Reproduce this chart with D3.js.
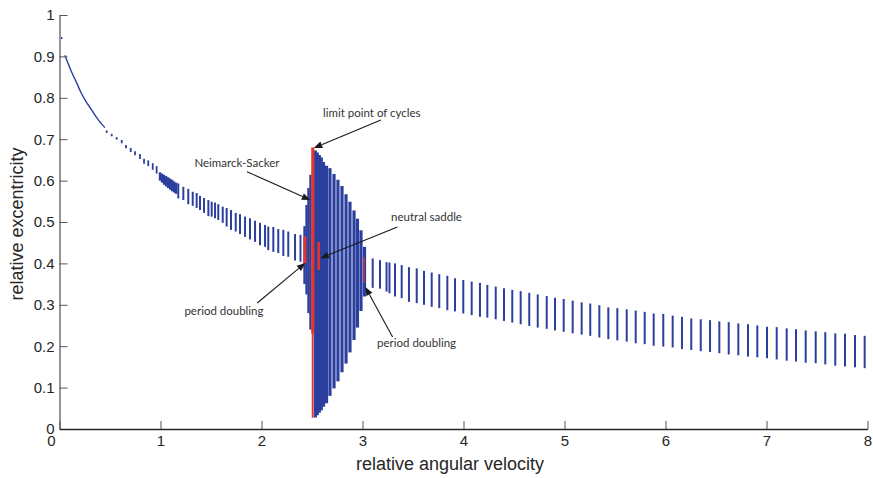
<!DOCTYPE html>
<html>
<head>
<meta charset="utf-8">
<script src="https://cdn.jsdelivr.net/npm/d3@7"></script>
<style>
  body { margin: 0; background: #fff; }
  svg text { font-family: "Liberation Sans", Arial, Helvetica, sans-serif; }
  .ann text { font-family: Lato, "Open Sans", sans-serif; }
</style>
</head>
<body>
<svg id="chart" width="873" height="478"></svg>
<script>
// ---- axis ticks ----
const xTicks = [0, 1, 2, 3, 4, 5, 6, 7, 8];
const xTickLabels = ["0", "1", "2", "3", "4", "5", "6", "7", "8"];
const yTicks = [0, 0.1, 0.2, 0.3, 0.4, 0.5, 0.6, 0.7, 0.8, 0.9, 1];
const yTickLabels = ["0", "0.1", "0.2", "0.3", "0.4", "0.5", "0.6", "0.7", "0.8", "0.9", "1"];

// ---- stationary branch (single valued) ----
const isoX = [0.022];
const isoLo = [0.942];
const isoHi = [0.947];

const curveX = [0.054, 0.075, 0.10, 0.13, 0.17, 0.21, 0.26, 0.32, 0.38, 0.45];
const curveY = [0.903, 0.889, 0.874, 0.857, 0.836, 0.814, 0.792, 0.770, 0.748, 0.728];

// ---- small oscillations (min / max of the cycle) ----
const dashX  = [0.467, 0.517, 0.566, 0.616, 0.658, 0.705, 0.748, 0.797, 0.837, 0.879, 0.923, 0.962];
const dashHi = [0.721, 0.713, 0.705, 0.698, 0.686, 0.679, 0.671, 0.664, 0.653, 0.649, 0.642, 0.635];
const dashLo = [0.715, 0.707, 0.699, 0.690, 0.678, 0.669, 0.661, 0.652, 0.641, 0.635, 0.626, 0.617];

const denseX  = [0.995, 1.015, 1.035, 1.055, 1.075, 1.095, 1.115, 1.135, 1.155];
const denseHi = [0.620, 0.617, 0.614, 0.611, 0.608, 0.605, 0.602, 0.598, 0.595];
const denseLo = [0.600, 0.595, 0.590, 0.586, 0.582, 0.578, 0.574, 0.571, 0.568];

const midX  = [1.176, 1.226, 1.275, 1.319, 1.358, 1.391, 1.431, 1.474, 1.507, 1.540,
               1.572, 1.616, 1.655, 1.698, 1.745, 1.787, 1.837, 1.886, 1.936, 1.985,
               2.035, 2.067, 2.117, 2.166, 2.216, 2.265, 2.332, 2.386];
const midHi = [0.593, 0.585, 0.580, 0.573, 0.570, 0.563, 0.558, 0.553, 0.549, 0.547,
               0.543, 0.537, 0.534, 0.529, 0.522, 0.519, 0.513, 0.509, 0.503, 0.498,
               0.493, 0.489, 0.488, 0.483, 0.481, 0.477, 0.471, 0.469];
const midLo = [0.557, 0.553, 0.543, 0.539, 0.534, 0.529, 0.522, 0.514, 0.513, 0.509,
               0.505, 0.498, 0.489, 0.481, 0.477, 0.471, 0.464, 0.458, 0.452, 0.444,
               0.440, 0.432, 0.428, 0.425, 0.418, 0.416, 0.407, 0.404];

// ---- large-amplitude lobe around the limit point ----
const lobeLX  = [2.426, 2.446, 2.465, 2.485];
const lobeLHi = [0.490, 0.541, 0.582, 0.614];
const lobeLLo = [0.350, 0.325, 0.280, 0.240];

const lobeRX  = [2.533, 2.552, 2.572, 2.592, 2.614, 2.644, 2.678, 2.718, 2.757, 2.797,
                 2.837, 2.876, 2.916, 2.950, 2.985, 3.020];
const lobeRHi = [0.673, 0.668, 0.662, 0.656, 0.645, 0.636, 0.630, 0.616, 0.602, 0.587,
                 0.567, 0.549, 0.528, 0.508, 0.480, 0.440];
const lobeRLo = [0.028, 0.033, 0.039, 0.045, 0.054, 0.062, 0.080, 0.098, 0.115, 0.137,
                 0.158, 0.185, 0.215, 0.245, 0.285, 0.320];

// ---- high-speed branch ----
const tailX  = [3.101, 3.173, 3.238, 3.267, 3.322, 3.388, 3.460, 3.537, 3.609, 3.685,
                3.760, 3.840, 3.916, 3.998, 4.081, 4.163,
                4.236, 4.319, 4.401, 4.483, 4.566, 4.651, 4.735, 4.824, 4.906, 4.992,
                5.081, 5.170, 5.255, 5.345, 5.434, 5.523, 5.616, 5.705, 5.794, 5.883,
                5.978, 6.071, 6.163, 6.255, 6.349, 6.441, 6.533, 6.626, 6.721, 6.817,
                6.909, 7.005, 7.101, 7.200, 7.292, 7.388, 7.487, 7.582, 7.681, 7.777,
                7.876, 7.972];
const tailHi = [0.412, 0.408, 0.403, 0.402, 0.400, 0.396, 0.391, 0.388, 0.382, 0.378,
                0.374, 0.370, 0.364, 0.360, 0.356, 0.353,
                0.348, 0.344, 0.340, 0.336, 0.333, 0.329, 0.325, 0.321, 0.317, 0.314,
                0.310, 0.306, 0.303, 0.299, 0.294, 0.292, 0.289, 0.286, 0.283, 0.279,
                0.278, 0.274, 0.271, 0.267, 0.265, 0.263, 0.260, 0.258, 0.255, 0.253,
                0.250, 0.247, 0.246, 0.243, 0.241, 0.238, 0.236, 0.234, 0.231, 0.230,
                0.227, 0.225];
const tailLo = [0.341, 0.339, 0.332, 0.328, 0.320, 0.316, 0.307, 0.304, 0.300, 0.295,
                0.292, 0.287, 0.284, 0.279, 0.275, 0.271,
                0.269, 0.265, 0.261, 0.257, 0.253, 0.249, 0.245, 0.242, 0.238, 0.235,
                0.231, 0.228, 0.225, 0.221, 0.217, 0.214, 0.211, 0.207, 0.205, 0.201,
                0.199, 0.197, 0.193, 0.191, 0.188, 0.186, 0.183, 0.180, 0.178, 0.175,
                0.173, 0.171, 0.168, 0.165, 0.163, 0.160, 0.159, 0.156, 0.153, 0.151,
                0.149, 0.147];

// ---- bifurcation points (red) ----
const redX  = [2.508, 2.506, 2.430, 2.566, 3.015];
const redHi = [0.680, 0.230, 0.465, 0.452, 0.415];
const redLo = [0.230, 0.027, 0.400, 0.384, 0.353];

// ---- layout ----
const svg = d3.select("#chart");
const x = d3.scaleLinear().domain([0, 8]).range([59.5, 867.5]);
const y = d3.scaleLinear().domain([0, 1]).range([429, 15]);

const BLUE = "#2b3f9e";
const RED = "#e3362b";
const TEXT = "#262626";

const zip = (xs, lo, hi) => xs.map((v, i) => ({ x: v, lo: lo[i], hi: hi[i] }));

function stripes(cls, data, color, width) {
  svg.append("g").attr("class", cls)
    .selectAll("line").data(data).join("line")
    .attr("x1", d => x(d.x)).attr("x2", d => x(d.x))
    .attr("y1", d => y(d.lo)).attr("y2", d => y(d.hi))
    .attr("stroke", color)
    .attr("stroke-width", width)
    .attr("stroke-linecap", "butt");
}

// stationary curve
svg.append("path")
  .datum(curveX.map((v, i) => [v, curveY[i]]))
  .attr("fill", "none")
  .attr("stroke", BLUE)
  .attr("stroke-width", 1.4)
  .attr("d", d3.line().x(d => x(d[0])).y(d => y(d[1])).curve(d3.curveMonotoneX));

stripes("iso", zip(isoX, isoLo, isoHi), BLUE, 1.4);
stripes("dash", zip(dashX, dashLo, dashHi), BLUE, 1.8);
stripes("dense", zip(denseX, denseLo, denseHi), BLUE, 2.4);
stripes("mid", zip(midX, midLo, midHi), BLUE, 2);
stripes("tail", zip(tailX, tailLo, tailHi), BLUE, 2);
stripes("lobeL", zip(lobeLX, lobeLLo, lobeLHi), BLUE, 2.4);
stripes("lobeR", zip(lobeRX, lobeRLo, lobeRHi), BLUE, 3.2);

const redWidths = [3.2, 1.8, 3, 2.6, 1.3];
stripes("red", zip(redX, redLo, redHi), RED, (d, i) => redWidths[i]);

// ---- axes ----
const yAxis = d3.axisLeft(y)
  .tickValues(yTicks)
  .tickFormat((d, i) => yTickLabels[i])
  .tickSize(-8).tickSizeOuter(0).tickPadding(5);
const gy = svg.append("g").attr("transform", `translate(${x(0)},0)`).call(yAxis);
gy.select(".domain").attr("stroke", "#8a8a8a").attr("stroke-width", 1.8);
gy.selectAll(".tick line").attr("stroke", "#555").attr("stroke-width", 1);
gy.selectAll(".tick text").attr("fill", TEXT).style("font-size", "15px");

const xAxis = d3.axisBottom(x)
  .tickValues(xTicks)
  .tickFormat((d, i) => xTickLabels[i])
  .tickSize(-8).tickSizeOuter(0).tickPadding(6.5);
const gx = svg.append("g").attr("transform", `translate(0,${y(0)})`).call(xAxis);
gx.select(".domain").attr("stroke", "#262626").attr("stroke-width", 1.3);
gx.selectAll(".tick line").attr("stroke", "#555").attr("stroke-width", 1);
gx.selectAll(".tick text").attr("fill", TEXT).style("font-size", "15px");
// the origin label of the x axis sits under the y-axis "0"
gx.selectAll(".tick text").filter(d => d === 0).attr("dx", -8.5);
gy.attr("font-family", null);
gx.attr("font-family", null);

// axis titles
svg.append("text")
  .attr("x", 450).attr("y", 469.5)
  .attr("text-anchor", "middle")
  .attr("fill", TEXT)
  .style("font-size", "18px")
  .text("relative angular velocity");

svg.append("text")
  .attr("transform", "translate(23,224) rotate(-90)")
  .attr("text-anchor", "middle")
  .attr("fill", TEXT)
  .style("font-size", "18px")
  .text("relative excentricity");

// ---- annotations ----
const notes = [
  { text: "limit point of cycles", tx: 2.609, ty: 0.7548, from: [3.182, 0.7464], tip: [2.518, 0.6787] },
  { text: "Neimarck-Sacker",       tx: 1.336, ty: 0.6329, from: [1.856, 0.6215], tip: [2.483, 0.5531] },
  { text: "neutral saddle",        tx: 3.283, ty: 0.5024, from: [3.346, 0.4879], tip: [2.582, 0.4123] },
  { text: "period doubling",       tx: 1.237, ty: 0.2742, from: [1.958, 0.3043], tip: [2.434, 0.4010] },
  { text: "period doubling",       tx: 3.144, ty: 0.1969, from: [3.298, 0.2222], tip: [3.028, 0.3430] }
];

const ann = svg.append("g").attr("class", "ann");
notes.forEach(n => {
  const x0 = x(n.from[0]), y0 = y(n.from[1]);
  const x1 = x(n.tip[0]), y1 = y(n.tip[1]);
  const ang = Math.atan2(y1 - y0, x1 - x0);
  const L = 8.5, W = 3.4;
  const bx = x1 - L * Math.cos(ang), by = y1 - L * Math.sin(ang);
  ann.append("line")
    .attr("x1", x0).attr("y1", y0).attr("x2", bx).attr("y2", by)
    .attr("stroke", "#1a1a1a").attr("stroke-width", 1.1);
  const px = -Math.sin(ang) * W, py = Math.cos(ang) * W;
  ann.append("polygon")
    .attr("points", `${x1},${y1} ${bx + px},${by + py} ${bx - px},${by - py}`)
    .attr("fill", "#1a1a1a");
  ann.append("text")
    .attr("x", x(n.tx)).attr("y", y(n.ty))
    .attr("fill", "#333")
    .style("font-size", "11.5px")
    .text(n.text);
});
</script>
</body>
</html>
